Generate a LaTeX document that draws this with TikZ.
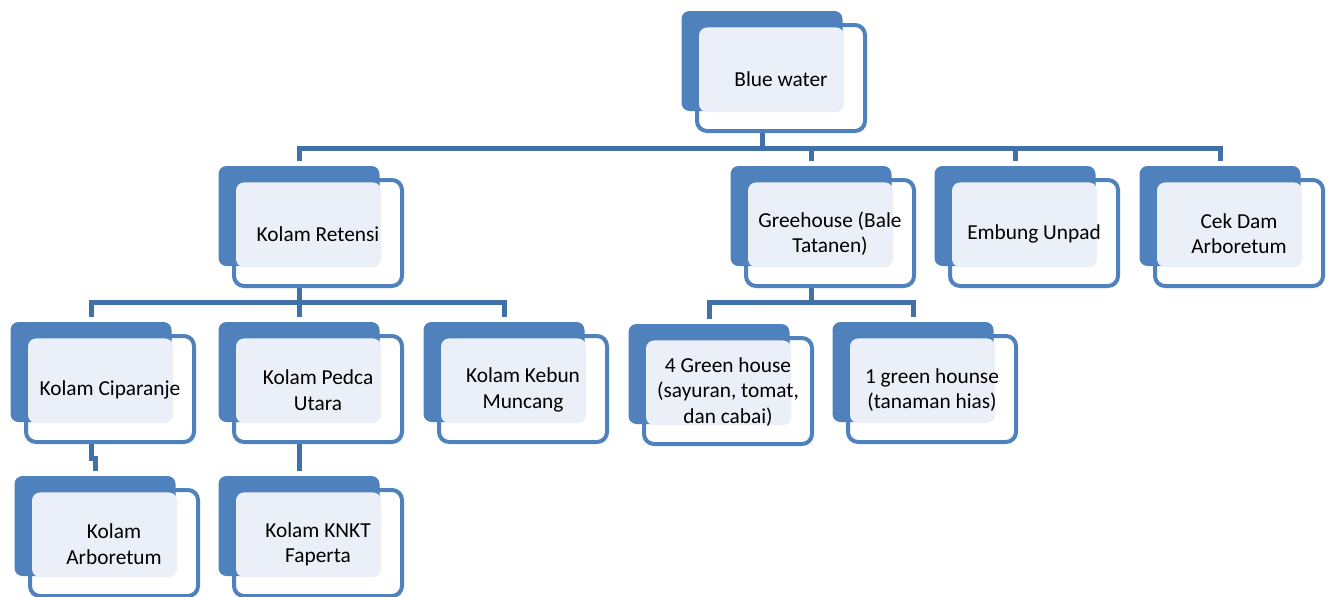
\documentclass[tikz,border=0pt]{standalone}
\usepackage{fontspec}
\setmainfont{Carlito}
\usepackage{tikz}
\usetikzlibrary{calc}

\definecolor{smblue}{HTML}{4F81BD}
\definecolor{smlight}{HTML}{EBEFF7}
\definecolor{smline}{HTML}{4270A8}

\begin{document}
\begin{tikzpicture}[x=0.75pt, y=-0.75pt]
    \tikzstyle{frontbox} = [rectangle, draw=smblue, fill=white, line width=3pt, rounded corners=7.5pt, minimum width=126pt, minimum height=79.5pt, inner sep=0pt]
    \tikzstyle{backbox} = [rectangle, fill=smblue, rounded corners=6pt, minimum width=120.75pt, minimum height=75pt, inner sep=0pt]
    \tikzstyle{lightbox} = [rectangle, fill=smlight, rounded corners=6pt, minimum width=108.75pt, minimum height=63.4pt, inner sep=0pt]
    \tikzstyle{boxtext} = [align=center, inner sep=0pt, font=\fontsize{16}{19}\selectfont]
    \tikzstyle{link} = [draw=smline, line width=3.75pt, shorten >=3.75pt]

    \useasboundingbox (0,0) rectangle (1334,596);

    % Boxes: front frame, blue back card, light overlap, text
    \foreach \n/\x/\y/\t in {blue/781/78/{Blue water},
            retensi/318/233/{Kolam Retensi}, greehouse/830/233/{Greehouse (Bale\\Tatanen)},
            embung/1034/233/{Embung Unpad}, cekdam/1239/233/{Cek Dam\\Arboretum},
            ciparanje/110/389/{Kolam Ciparanje}, pedca/318/389/{Kolam Pedca\\Utara},
            kebun/523/389/{Kolam Kebun\\Muncang}, greenfour/728/391/{4 Green house\\(sayuran, tomat,\\dan cabai)},
            greenone/932/389/{1 green hounse\\(tanaman hias)},
            arboretum/114/543/{Kolam\\Arboretum}, knkt/318/543/{Kolam KNKT\\Faperta}} {
        \node[frontbox] (\n) at (\x,\y) {};
        \node[backbox] (\n-b) at (\x-19,\y-17) {};
        \node[lightbox] (\n-l) at (\x-9.5,\y-8.25) {};
        \node[boxtext] (\n-t) at (\x,\y+1) {\t};
    }

    % Level 1
    \foreach \c in {retensi, greehouse, embung, cekdam}
        \draw[link] (blue-b.south |- blue.south) -- ++(0,15) -| (\c-b.north);

    % Level 2
    \foreach \c in {ciparanje, pedca, kebun}
        \draw[link] (retensi-b.south |- retensi.south) -- ++(0,14) -| (\c-b.north);
    \foreach \c in {greenfour, greenone}
        \draw[link] (greehouse-b.south |- greehouse.south) -- ++(0,14) -| (\c-b.north);

    % Level 3
    \draw[link] (ciparanje-b.south |- ciparanje.south) -- ++(0,14) -| (arboretum-b.north);
    \draw[link] (pedca-b.south |- pedca.south) -- ++(0,14) -| (knkt-b.north);
\end{tikzpicture}
\end{document}
